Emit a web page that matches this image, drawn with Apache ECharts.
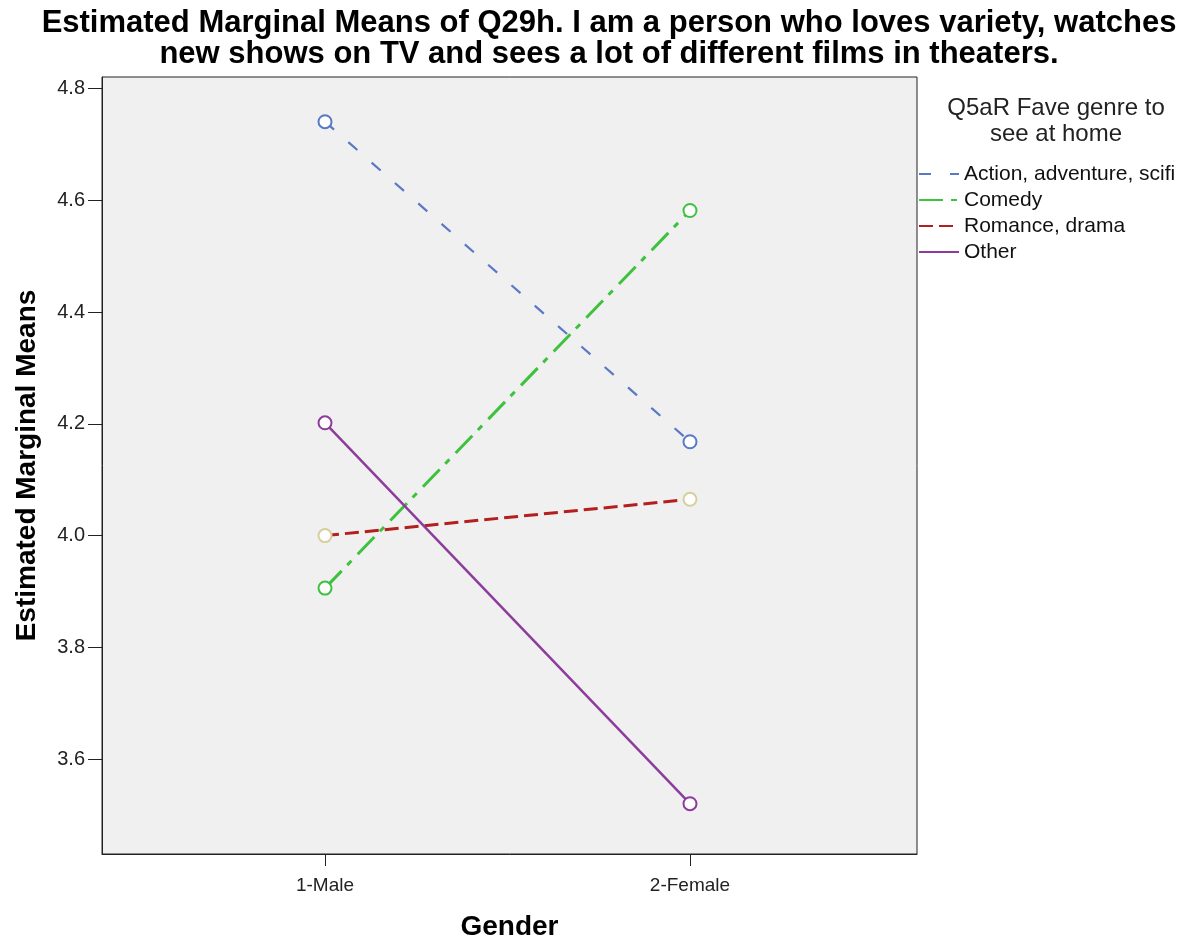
<!DOCTYPE html>
<html><head><meta charset="utf-8">
<script src="https://cdn.jsdelivr.net/npm/echarts@6/dist/echarts.min.js"></script>
<style>html,body{margin:0;padding:0;background:#fff}#c{width:1193px;height:946px}</style>
</head><body><div id="c"></div>
<script>
const categories = ['1-Male', '2-Female'];
const categoryPos = [1, 2];
const seriesNames = ['Action, adventure, scifi', 'Comedy', 'Romance, drama', 'Other'];
const actionVals = [4.741, 4.168];
const comedyVals = [3.906, 4.582];
const romanceVals = [4.000, 4.065];
const otherVals = [4.202, 3.520];
const yTicks = [3.6, 3.8, 4.0, 4.2, 4.4, 4.6, 4.8];

const FONT = '"Liberation Sans", Arial, sans-serif';
const colors = ['#5b78c6', '#3ec23e', '#b41e1e', '#8d3c9c'];
const markerColors = ['#5b78c6', '#3ec23e', '#d6cf9c', '#8d3c9c'];
const dashes = [[12, 19], [24, 8, 6, 9], [14, 6], 'solid'];
const widths = [2.2, 3, 3, 2.5];
const valsList = [actionVals, comedyVals, romanceVals, otherVals];

const series = seriesNames.map((n, i) => ({
  name: n, type: 'line',
  data: categoryPos.map((x, j) => [x, valsList[i][j]]),
  symbol: 'emptyCircle', symbolSize: 13,
  lineStyle: { color: colors[i], width: widths[i], type: dashes[i] },
  itemStyle: { color: markerColors[i], borderColor: markerColors[i], borderWidth: 1.5 },
  emphasis: { disabled: true },
  z: 3
}));

const chart = echarts.init(document.getElementById('c'), null, { renderer: 'canvas' });
chart.setOption({
  animation: false,
  backgroundColor: '#fff',
  title: [
    { text: 'Estimated Marginal Means of Q29h. I am a person who loves variety, watches\nnew shows on TV and sees a lot of different films in theaters.',
      left: 604, top: 3, textAlign: 'center',
      textStyle: { fontFamily: FONT, fontSize: 31, fontWeight: 'bold', color: '#000', lineHeight: 31 } },
    { text: 'Q5aR Fave genre to\nsee at home', left: 1051, top: 90, textAlign: 'center',
      textStyle: { fontFamily: FONT, fontSize: 24, fontWeight: 'normal', color: '#222', lineHeight: 26 } }
  ],
  legend: {
    orient: 'vertical', left: 913, top: 156,
    itemWidth: 40, itemHeight: 14, itemGap: 0,
    itemStyle: { opacity: 0 },
    textStyle: { fontFamily: FONT, fontSize: 21, color: '#111', lineHeight: 26, padding: 0 },
    data: seriesNames,
    selectedMode: false
  },
  grid: { left: 102, right: 276, top: 77, bottom: 90, show: true, backgroundColor: '#f0f0f0', borderColor: '#222', borderWidth: 1 },
  xAxis: {
    type: 'value', min: 0.389, max: 2.622,
    name: 'Gender', nameLocation: 'middle', nameGap: 59,
    nameTextStyle: { fontFamily: FONT, fontSize: 28, fontWeight: 'bold', color: '#000' },
    axisLine: { show: true, lineStyle: { color: '#222', width: 1 } },
    axisTick: { show: true, length: 12, customValues: categoryPos, lineStyle: { color: '#222' } },
    axisLabel: { customValues: categoryPos, fontFamily: FONT, fontSize: 19, color: '#222', margin: 22,
      formatter: v => categories[categoryPos.indexOf(v)] },
    splitLine: { show: false }
  },
  yAxis: {
    type: 'value', min: 3.43, max: 4.821,
    name: 'Estimated Marginal Means', nameLocation: 'middle', nameGap: 61, nameRotate: 90,
    nameTextStyle: { fontFamily: FONT, fontSize: 28, fontWeight: 'bold', color: '#000' },
    axisLine: { show: true, lineStyle: { color: '#222', width: 1 } },
    axisTick: { show: true, length: 14, customValues: yTicks, lineStyle: { color: '#222' } },
    axisLabel: { customValues: yTicks, fontFamily: FONT, fontSize: 20, color: '#222', margin: 17,
      formatter: v => v.toFixed(1) },
    splitLine: { show: false }
  },
  series: series
});
</script></body></html>
